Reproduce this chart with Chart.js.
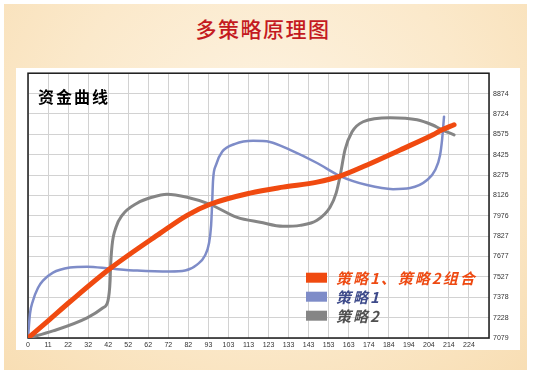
<!DOCTYPE html>
<html>
<head>
<meta charset="utf-8">
<script src="https://cdn.jsdelivr.net/npm/chart.js@4.4.1/dist/chart.umd.min.js"></script>
<style>
  html, body { margin: 0; padding: 0; background: #fff; }
  body { width: 534px; height: 377px; position: relative; overflow: hidden; font-family: "Noto Sans CJK SC", sans-serif; }
  #frame {
    position: absolute; left: 4px; top: 4px; width: 523px; height: 366px;
    background: radial-gradient(ellipse at 50% 35%, #fdf3e2 0%, #fbe9cb 55%, #f8deb4 100%);
  }
  #title {
    position: absolute; left: 0; top: 16px; width: 526px; text-align: center;
    font-size: 21px; line-height: 24px; font-weight: 500; color: #c41a1f; letter-spacing: 1.5px;
  }
  #panel { position: absolute; left: 16px; top: 68px; width: 504px; height: 282px; background: #fff; }
  canvas { display: block; }
</style>
</head>
<body>
<div id="frame"></div>
<div id="title">多策略原理图</div>
<div id="panel"><canvas id="chart" width="504" height="282"></canvas></div>
<script>
// axis labels as printed on the picture
const xLabels = ['0', '11', '22', '32', '42', '52', '62', '72', '82', '93', '103', '113',
                 '123', '133', '143', '153', '163', '174', '184', '194', '204', '214', '224'];
const yLabels = ['7079', '7228', '7378', '7527', '7677', '7827', '7976',
                 '8126', '8275', '8425', '8575', '8724', '8874'];
const X_STEP = 10.18;
const Y_MIN = 7079;
const Y_STEP = 149.58;

const chartTitle = '资金曲线';
const seriesNames = ['策略1、策略2组合', '策略1', '策略2'];

// combined curve
const comboX = [0, 10.2, 21.3, 41.7, 67, 80.8, 92.5, 112.8, 129.5, 146.8, 158.5, 172.2, 189, 205.7, 210.3, 216.4];
const comboY = [7079, 7205, 7345, 7589, 7847, 7980, 8061, 8143, 8187, 8224, 8268, 8350, 8460, 8571, 8608, 8645];

// strategy 1
const s1X = [0, 1.0, 2.5, 5.1, 7.6, 12.7, 21.3, 30.0, 41.7, 55.4, 72.1, 79.8, 85.9, 89.9, 91.9, 93.0, 93.5,
             94.0, 95.5, 98.6, 105.2, 114.3, 122.9, 133.1, 146.8, 158.5, 172.2, 185.4, 194.1, 202.7,
             206.8, 209.3, 210.3, 211.3];
const s1Y = [7079, 7256, 7352, 7448, 7500, 7559, 7596, 7603, 7589, 7574, 7567, 7574, 7618, 7685, 7773, 7906, 8061,
             8239, 8350, 8446, 8505, 8527, 8519, 8460, 8364, 8268, 8202, 8172, 8180, 8239,
             8313, 8423, 8534, 8704];

// strategy 2
const s2X = [0, 12.7, 30.0, 38.1, 40.6, 41.7, 41.9, 42.7, 44.7, 47.8, 55.4, 63.0, 70.6, 80.8, 92.5, 106.2,
             117.9, 129.5, 138.2, 146.8, 153.4, 156.5, 158.5, 161.0, 164.6, 170.2, 183.9, 197.6, 205.2,
             210.3, 216.4];
const s2Y = [7079, 7131, 7227, 7301, 7352, 7500, 7589, 7759, 7892, 7980, 8069, 8113, 8135, 8113, 8061, 7965,
             7929, 7899, 7906, 7943, 8039, 8143, 8268, 8460, 8593, 8667, 8697, 8682, 8645,
             8608, 8571];

const pts = (xs, ys) => xs.map((x, i) => ({x: x, y: ys[i]}));

const overlay = {
    id: 'overlay',
    beforeDatasetsDraw(chart) {
        const {ctx, chartArea: a} = chart;
        ctx.save();
        ctx.strokeStyle = '#1a1a1a';
        ctx.lineWidth = 1.5;
        ctx.strokeRect(a.left, a.top, a.right - a.left, a.bottom - a.top);
        ctx.restore();
    },
    afterDraw(chart) {
        const {ctx, chartArea: a} = chart;
        ctx.save();
        ctx.textBaseline = 'middle';
        ctx.textAlign = 'left';

        ctx.font = 'bold 16px "Noto Sans CJK SC"';
        ctx.letterSpacing = '2px';
        ctx.fillStyle = '#000';
        ctx.fillText(chartTitle, a.left + 10, a.top + 24);

        // legend inside the plot, lower right
        ctx.font = 'italic bold 15px "Noto Sans CJK SC"';
        ctx.letterSpacing = '2px';
        chart.data.datasets.forEach((ds, i) => {
            const y = a.top + 204.5 + i * 19;
            ctx.fillStyle = ds.borderColor;
            ctx.fillRect(a.left + 278, y - 5, 21, 10);
            ctx.fillStyle = ds.textColor;
            ctx.fillText(ds.label, a.left + 308, y + 1);
        });
        ctx.restore();
    }
};

const gridStyle = {
    color: '#d2d2d2',
    lineWidth: 1,
    borderDash: [1, 2],
    tickLength: 3,
    tickColor: '#c4c4c4',
    tickBorderDash: [1, 2]
};

new Chart(document.getElementById('chart'), {
    type: 'line',
    data: {
        datasets: [
            {
                label: seriesNames[0],
                data: pts(comboX, comboY),
                borderColor: '#f04a10',
                textColor: '#ee4a12',
                borderWidth: 5,
                borderCapStyle: 'round'
            },
            {
                label: seriesNames[1],
                data: pts(s1X, s1Y),
                borderColor: '#7e8cc8',
                textColor: '#3d4a8a',
                borderWidth: 2.5,
                borderCapStyle: 'round'
            },
            {
                label: seriesNames[2],
                data: pts(s2X, s2Y),
                borderColor: '#858585',
                textColor: '#505050',
                borderWidth: 3,
                borderCapStyle: 'round'
            }
        ]
    },
    options: {
        responsive: false,
        animation: false,
        events: [],
        layout: {padding: {left: 12, top: 4, right: 6, bottom: 2}},
        elements: {
            point: {radius: 0},
            line: {cubicInterpolationMode: 'monotone', fill: false}
        },
        scales: {
            x: {
                type: 'linear',
                min: 0,
                max: X_STEP * 23,
                grid: gridStyle,
                border: {display: false},
                afterFit: s => { s.height = 10; },
                ticks: {
                    stepSize: X_STEP,
                    padding: 0,
                    maxRotation: 0,
                    autoSkip: false,
                    color: '#333',
                    font: {family: 'Liberation Sans', size: 7},
                    callback: (v, i) => xLabels[i] || ''
                }
            },
            y: {
                type: 'linear',
                position: 'right',
                min: Y_MIN,
                max: Y_MIN + Y_STEP * 13,
                grid: gridStyle,
                border: {display: false},
                afterFit: s => { s.width = 25; },
                ticks: {
                    stepSize: Y_STEP,
                    padding: 1,
                    autoSkip: false,
                    color: '#333',
                    font: {family: 'Liberation Sans', size: 7},
                    callback: (v, i) => yLabels[i] || ''
                }
            }
        },
        plugins: {
            legend: {display: false},
            title: {display: false},
            tooltip: {enabled: false}
        }
    },
    plugins: [overlay]
});
</script>
</body>
</html>
